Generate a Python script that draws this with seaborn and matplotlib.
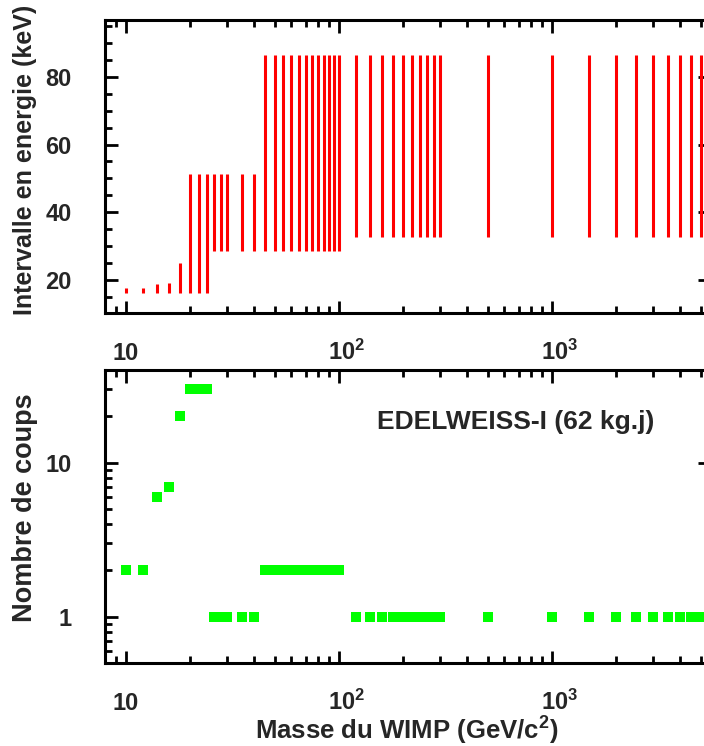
import matplotlib
matplotlib.use('Agg')
import matplotlib.pyplot as plt
import numpy as np
import pandas as pd
import seaborn as sns
from matplotlib.ticker import (FixedLocator, FixedFormatter, LogLocator,
                               MultipleLocator, NullFormatter)
from matplotlib.transforms import ScaledTranslation

# WIMP masses (GeV/c^2)
mass = [10, 12, 14, 16, 18, 20, 22, 24, 26, 28, 30, 35, 40,
        45, 50, 55, 60, 65, 70, 75, 80, 85, 90, 95, 100,
        120, 140, 160, 180, 200, 220, 240, 260, 280, 300,
        500, 1000, 1500, 2000, 2500, 3000, 3500, 4000, 4500, 5000]
# optimal energy interval (keV)
e_low = [16, 16, 16, 16, 16, 16, 16, 16, 28.6, 28.6, 28.6, 28.6, 28.6,
         28.6, 28.6, 28.6, 28.6, 28.6, 28.6, 28.6, 28.6, 28.6, 28.6, 28.6, 28.6,
         32.8, 32.8, 32.8, 32.8, 32.8, 32.8, 32.8, 32.8, 32.8, 32.8,
         32.8, 32.8, 32.8, 32.8, 32.8, 32.8, 32.8, 32.8, 32.8, 32.8]
e_high = [17.5, 17.5, 18.8, 19.2, 24.9, 51.3, 51.3, 51.3, 51.3, 51.3, 51.3, 51.3, 51.3,
          86.5, 86.5, 86.5, 86.5, 86.5, 86.5, 86.5, 86.5, 86.5, 86.5, 86.5, 86.5,
          86.5, 86.5, 86.5, 86.5, 86.5, 86.5, 86.5, 86.5, 86.5, 86.5,
          86.5, 86.5, 86.5, 86.5, 86.5, 86.5, 86.5, 86.5, 86.5, 86.5]
# number of events in the interval
counts = [2, 2, 6, 7, 20, 30, 30, 30, 1, 1, 1, 1, 1,
          2, 2, 2, 2, 2, 2, 2, 2, 2, 2, 2, 2,
          1, 1, 1, 1, 1, 1, 1, 1, 1, 1,
          1, 1, 1, 1, 1, 1, 1, 1, 1, 1]

x_ticks = [10, 100, 1000]
x_tick_labels = ['10', r'$10^{2}$', r'$10^{3}$']

sns.set_style('ticks')
plt.rcParams['font.family'] = ['Liberation Sans', 'DejaVu Sans']
plt.rcParams['font.weight'] = 'bold'
plt.rcParams['mathtext.fontset'] = 'custom'
plt.rcParams['mathtext.rm'] = 'Liberation Sans:bold'
plt.rcParams['mathtext.bf'] = 'Liberation Sans:bold'
plt.rcParams['mathtext.it'] = 'Liberation Sans:bold'

df = pd.DataFrame({'mass': mass, 'lo': e_low, 'hi': e_high, 'n': counts})

W, H = 704, 746
fig = plt.figure(figsize=(W / 100, H / 100), dpi=100)
ax1 = fig.add_axes([105 / W, 1 - 313 / H, 605 / W, 293 / H])
ax2 = fig.add_axes([105 / W, 1 - 663 / H, 605 / W, 293 / H])

ax1.vlines(df['mass'], df['lo'], df['hi'], colors='#ff0000', linewidth=2.2)
sns.scatterplot(data=df, x='mass', y='n', marker='s', s=52, color='#00ff00',
                linewidth=0, ax=ax2, legend=False, zorder=3)

# shift the 10^n labels so the "10" sits on the tick, like the original
shift = ScaledTranslation(6 / 72, 0, fig.dpi_scale_trans)

for ax in (ax1, ax2):
    ax.set_xscale('log')
    ax.set_xlim(8, 5540)
    ax.xaxis.set_major_locator(FixedLocator(x_ticks))
    ax.xaxis.set_major_formatter(FixedFormatter(x_tick_labels))
    ax.xaxis.set_minor_locator(LogLocator(base=10, subs=np.arange(2, 10), numticks=20))
    ax.xaxis.set_minor_formatter(NullFormatter())
    ax.tick_params(which='both', direction='in', top=True, right=True,
                   width=2, color='black', labelsize=17)
    ax.tick_params(which='major', length=9)
    ax.tick_params(which='minor', length=5, right=False)
    ax.tick_params(axis='x', pad=34)
    ax.tick_params(axis='y', pad=24)
    for sp in ax.spines.values():
        sp.set_linewidth(2.2)
        sp.set_color('black')
    ax.set_xlabel('')
    ax.set_ylabel('')
    for i, tick in enumerate(ax.xaxis.get_major_ticks()):
        tick.label1.set_va('baseline')
        if i > 0:
            tick.label1.set_transform(tick.label1.get_transform() + shift)

ax1.set_ylim(10.2, 96.8)
ax1.yaxis.set_major_locator(MultipleLocator(20))
ax1.yaxis.set_minor_locator(MultipleLocator(5))

ax2.set_yscale('log')
ax2.set_ylim(0.5, 40)
ax2.yaxis.set_major_locator(FixedLocator([1, 10]))
ax2.yaxis.set_major_formatter(FixedFormatter(['1', '10']))
ax2.yaxis.set_minor_locator(LogLocator(base=10, subs=np.arange(2, 10), numticks=20))
ax2.yaxis.set_minor_formatter(NullFormatter())

ax2.text(0.678, 0.799, 'EDELWEISS-I (62 kg.j)', transform=ax2.transAxes,
         ha='center', va='baseline', fontsize=19, fontweight='bold')

fig.text(25 / W, 1 - 160 / H, 'Intervalle en energie (keV)', rotation=90,
         ha='center', va='center', fontsize=18, fontweight='bold')
fig.text(25 / W, 1 - 508 / H, 'Nombre de coups', rotation=90,
         ha='center', va='center', fontsize=19.5, fontweight='bold')
fig.text(407 / W, 1 - 740 / H, r'Masse du WIMP (GeV/c$^{2}$)',
         ha='center', va='baseline', fontsize=18.5, fontweight='bold')

fig.savefig('out.png', dpi=100, facecolor='white')
